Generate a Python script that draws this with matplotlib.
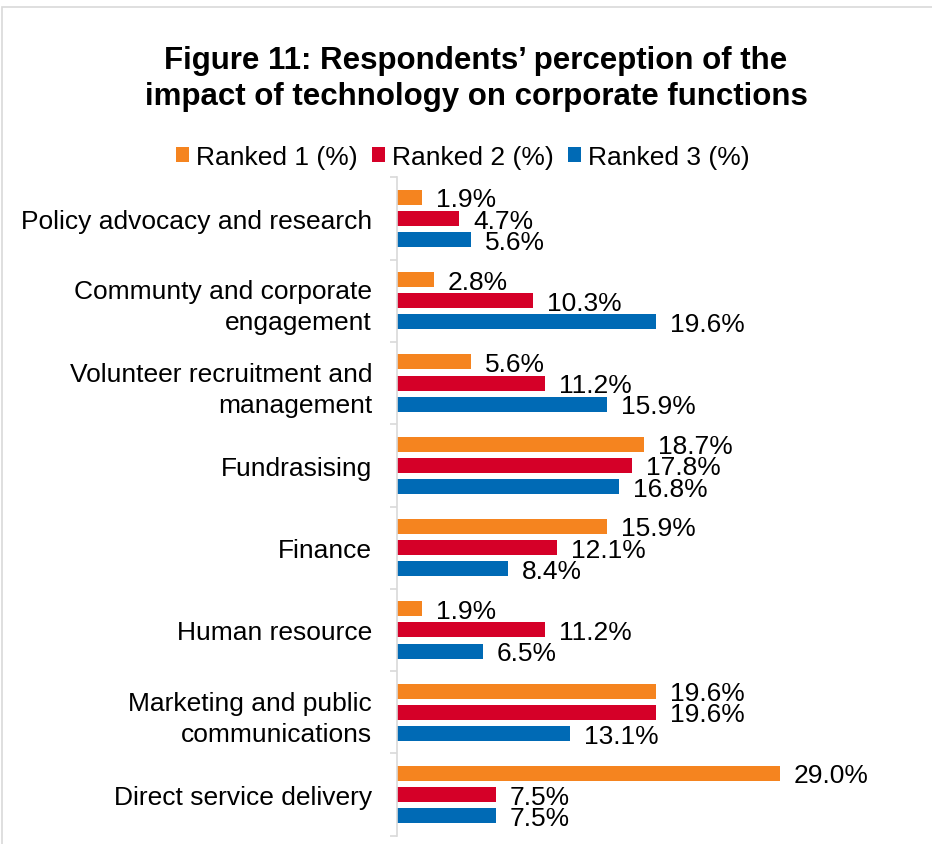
import matplotlib.pyplot as plt
from matplotlib.patches import Patch, Rectangle

plt.rcParams['font.family'] = ['Liberation Sans', 'DejaVu Sans']

categories = ["Policy advocacy and research",
              "Communty and corporate\nengagement",
              "Volunteer recruitment and\nmanagement",
              "Fundrasising",
              "Finance",
              "Human resource",
              "Marketing and public\ncommunications",
              "Direct service delivery"]
ranked1 = [1.9, 2.8, 5.6, 18.7, 15.9, 1.9, 19.6, 29.0]
ranked2 = [4.7, 10.3, 11.2, 17.8, 12.1, 11.2, 19.6, 7.5]
ranked3 = [5.6, 19.6, 15.9, 16.8, 8.4, 6.5, 13.1, 7.5]
series_names = ["Ranked 1 (%)", "Ranked 2 (%)", "Ranked 3 (%)"]
colors = ["#F5841F", "#D50028", "#006AB5"]

W, H = 932, 845
fig = plt.figure(figsize=(W / 100, H / 100), dpi=100)
ax = fig.add_axes([397 / W, 1 - 836.7 / H, 462 / W, (836.7 - 178.3) / H])

pos = list(range(len(categories)))
offsets = [-0.258, 0.0, 0.258]
bar_h = 0.182
for vals, off, col in zip([ranked1, ranked2, ranked3], offsets, colors):
    ys = [p + off for p in pos]
    ax.barh(ys, vals, height=bar_h, color=col)
    for y, v in zip(ys, vals):
        ax.annotate("%.1f%%" % v, xy=(v, y), xytext=(10, -1.5),
                    textcoords="offset points", va="center", ha="left",
                    fontsize=19, color="black", annotation_clip=False)

ax.set_xlim(0, 35)
ax.set_ylim(len(categories) - 0.5, -0.5)
ax.set_yticks(pos)
ax.set_yticklabels(categories, fontsize=19, linespacing=1.38)
ax.set_yticks([p - 0.5 for p in pos] + [len(categories) - 0.5], minor=True)
ax.tick_params(axis='y', which='major', length=0, pad=18)
ax.tick_params(axis='y', which='minor', length=5, width=1.2, color="#d9d9d9")
ax.set_xticks([])
for s in ["top", "right", "bottom"]:
    ax.spines[s].set_visible(False)
ax.spines["left"].set_color("#d9d9d9")
ax.spines["left"].set_linewidth(1.2)

fig.text(476 / W, 1 - 79 / H,
         "Figure 11: Respondents\u2019 perception of the\nimpact of technology on corporate functions",
         ha="center", va="center", fontsize=22.5, fontweight="bold", linespacing=1.22)

handles = [Patch(facecolor=c, edgecolor="none") for c in colors]
fig.legend(handles, series_names, loc="center", bbox_to_anchor=(463 / W, 1 - 158 / H),
           ncol=3, frameon=False, fontsize=19, handlelength=0.5, handleheight=0.5,
           handletextpad=0.25, columnspacing=0.55, borderpad=0)

# light frame around the chart area
fig.patches.append(Rectangle((1.5 / W, -0.05), 1.2, 1.05 - 7.5 / H,
                             transform=fig.transFigure, fill=False,
                             edgecolor="#d9d9d9", linewidth=1.2))

fig.savefig("out.png", dpi=100)
